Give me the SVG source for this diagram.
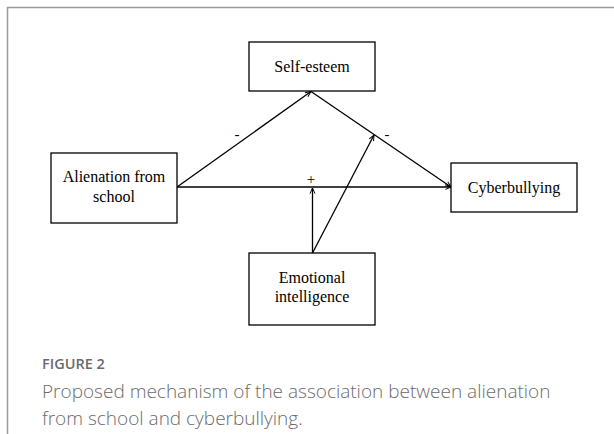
<svg xmlns="http://www.w3.org/2000/svg" width="614" height="434" viewBox="0 0 614 434">
<style>
.box{fill:#fff;stroke:#000;stroke-width:1.3}
.lbl{font-family:"Liberation Serif","Times New Roman",serif;font-size:16px;fill:#000;text-anchor:middle}
.sign{font-family:"Liberation Serif",serif;font-size:15px;fill:#000;text-anchor:middle}
.ln{stroke:#000;stroke-width:1.3;fill:none}
.cap{font-family:"Open Sans","Noto Sans",sans-serif;fill:#6b6b6b}
</style>
<defs>
<marker id="ar" viewBox="0 0 10 10" refX="9" refY="5" markerWidth="7" markerHeight="7" orient="auto" markerUnits="userSpaceOnUse">
<path d="M1,1.5 L9,5 L1,8.5" fill="none" stroke="#000" stroke-width="1.4"/>
</marker>
</defs>
<rect x="0" y="0" width="614" height="434" fill="#fff"/>
<path d="M7.5,434 V7.5 H614" fill="none" stroke="#999" stroke-width="1.5"/>
<g id="connectors">
<line class="ln" x1="177" y1="187" x2="311" y2="91.5" marker-end="url(#ar)"/>
<line class="ln" x1="311" y1="91.5" x2="451" y2="187" marker-end="url(#ar)"/>
<line class="ln" x1="177" y1="187" x2="451" y2="187" marker-end="url(#ar)"/>
<line class="ln" x1="312.5" y1="253" x2="312.5" y2="188" marker-end="url(#ar)"/>
<line class="ln" x1="312.5" y1="253" x2="374" y2="135" marker-end="url(#ar)"/>
<text class="sign" x="237" y="139">-</text>
<text class="sign" x="387" y="139">-</text>
<text class="sign" x="311" y="184">+</text>
</g>
<g id="self-esteem">
<rect class="box" x="249" y="42" width="126" height="49"/>
<text class="lbl" x="312" y="72">Self-esteem</text>
</g>
<g id="alienation">
<rect class="box" x="51" y="153" width="126" height="70"/>
<text class="lbl" x="114" y="182">Alienation from</text>
<text class="lbl" x="114" y="202">school</text>
</g>
<g id="cyberbullying">
<rect class="box" x="451" y="163" width="126" height="49"/>
<text class="lbl" x="514" y="193">Cyberbullying</text>
</g>
<g id="emotional">
<rect class="box" x="249" y="253" width="126" height="72"/>
<text class="lbl" x="312" y="283">Emotional</text>
<text class="lbl" x="312" y="302">intelligence</text>
</g>
<g id="caption">
<text class="cap" x="42" y="369" font-size="14.5" font-weight="600">FIGURE 2</text>
<text class="cap" x="42" y="398" font-size="19" font-weight="300">Proposed mechanism of the association between alienation</text>
<text class="cap" x="42" y="425" font-size="19" font-weight="300">from school and cyberbullying.</text>
</g>
</svg>
